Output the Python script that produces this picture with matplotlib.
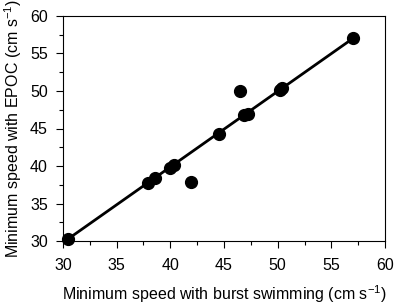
import numpy as np
from matplotlib import pyplot as plt

plt.rcParams['font.family'] = ['Liberation Sans', 'DejaVu Sans']
plt.rcParams['mathtext.fontset'] = 'custom'
plt.rcParams['mathtext.rm'] = 'Liberation Sans'
plt.rcParams['mathtext.default'] = 'regular'

# minimum speed (cm s^-1)
burst = [30.5, 37.9, 38.6, 40.0, 40.3, 41.9, 44.5, 46.5, 46.9, 47.2, 50.2, 50.4, 57.0]
epoc = [30.3, 37.7, 38.4, 39.8, 40.1, 37.9, 44.3, 50.0, 46.8, 47.0, 50.1, 50.4, 57.0]
line_x = [30.5, 57.0]
line_y = [30.3, 57.0]
ticks = [30, 35, 40, 45, 50, 55, 60]

fig = plt.figure(figsize=(3.97, 3.08), dpi=100)
ax = fig.add_axes([63/397, 1-241/308, 322/397, 225/308])

ax.plot(line_x, line_y, color='black', lw=2, zorder=2)
ax.plot(burst, epoc, 'o', color='black', ms=8.5, zorder=3, clip_on=False)

ax.set_xlim(30, 60)
ax.set_ylim(30, 60)
ax.set_xticks(ticks)
ax.set_yticks(ticks)
ax.set_xticks(np.arange(30, 60.1, 2.5), minor=True)
ax.set_yticks(np.arange(30, 60.1, 2.5), minor=True)
ax.tick_params(which='both', direction='out', top=False, right=False, labelsize=11.5)
ax.tick_params(axis='x', which='major', pad=7)
ax.tick_params(axis='y', which='major', pad=6)
ax.tick_params(which='major', length=5, width=0.8)
ax.tick_params(which='minor', length=3, width=0.8)
for s in ax.spines.values():
    s.set_linewidth(0.8)

ax.set_xlabel('Minimum speed with burst swimming (cm s$^{-1}$)', fontsize=11.5, labelpad=8)
ax.set_ylabel('Minimum speed with EPOC (cm s$^{-1}$)', fontsize=11.5, labelpad=4)

plt.savefig('out.png', dpi=100)
